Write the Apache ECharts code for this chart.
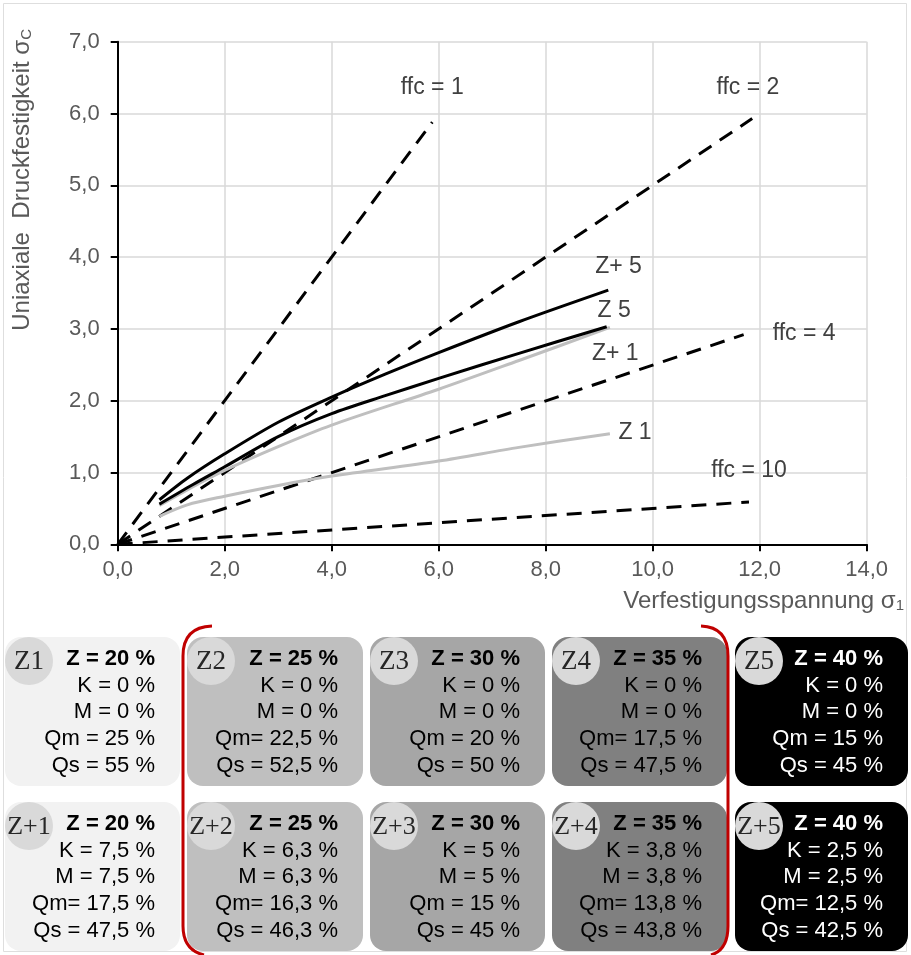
<!DOCTYPE html>
<html>
<head>
<meta charset="utf-8">
<script src="https://cdn.jsdelivr.net/npm/echarts/dist/echarts.min.js"></script>
<style>
html, body { margin: 0; padding: 0; background: #ffffff; }
#chart { width: 911px; height: 955px; }
</style>
</head>
<body>
<div id="chart"></div>
<script>
// Reference lines of constant flow function ffc = σ1 / σc
const ffc1  = [[0, 0], [5.88, 5.88]];
const ffc2  = [[0, 0], [11.86, 5.93]];
const ffc4  = [[0, 0], [11.7, 2.92]];
const ffc10 = [[0, 0], [11.8, 0.59]];

// Measured yield loci summaries: σ1 (x) vs. σc (y)
const curveZ1  = [[0.78, 0.39], [1.3, 0.55], [2.0, 0.67], [3.0, 0.82], [4.0, 0.95], [6.0, 1.16], [7.5, 1.35], [9.2, 1.54]];
const curveZp1 = [[0.78, 0.54], [1.4, 0.80], [2.0, 1.03], [3.0, 1.36], [4.0, 1.66], [6.0, 2.16], [7.5, 2.56], [9.2, 3.02]];
const curveZ5  = [[0.78, 0.56], [1.4, 0.83], [2.0, 1.08], [3.0, 1.50], [4.0, 1.82], [5.0, 2.07], [6.0, 2.31], [7.5, 2.66], [9.14, 3.03]];
const curveZp5 = [[0.78, 0.62], [1.3, 0.92], [2.0, 1.26], [3.0, 1.70], [4.0, 2.05], [5.0, 2.37], [6.0, 2.67], [7.5, 3.10], [9.17, 3.54]];

// Line annotations, anchored in data coordinates
const lineNotes = [
  { text: 'ffc = 1',  at: [5.88, 6.36] },
  { text: 'ffc = 2',  at: [11.78, 6.36] },
  { text: 'ffc = 4',  at: [12.83, 2.94] },
  { text: 'ffc = 10', at: [11.8, 1.03] },
  { text: 'Z+ 5',     at: [9.36, 3.87] },
  { text: 'Z 5',      at: [9.28, 3.26] },
  { text: 'Z+ 1',     at: [9.30, 2.65] },
  { text: 'Z 1',      at: [9.67, 1.56] }
];

// Mixture compositions
const mixRow1 = ['Z1', 'Z2', 'Z3', 'Z4', 'Z5'];
const mixRow2 = ['Z+1', 'Z+2', 'Z+3', 'Z+4', 'Z+5'];
const zLines  = ['Z = 20 %', 'Z = 25 %', 'Z = 30 %', 'Z = 35 %', 'Z = 40 %'];
const kRow1   = ['K = 0 %', 'K = 0 %', 'K = 0 %', 'K = 0 %', 'K = 0 %'];
const mRow1   = ['M = 0 %', 'M = 0 %', 'M = 0 %', 'M = 0 %', 'M = 0 %'];
const qmRow1  = ['Qm = 25 %', 'Qm= 22,5 %', 'Qm = 20 %', 'Qm= 17,5 %', 'Qm = 15 %'];
const qsRow1  = ['Qs = 55 %', 'Qs = 52,5 %', 'Qs = 50 %', 'Qs = 47,5 %', 'Qs = 45 %'];
const kRow2   = ['K = 7,5 %', 'K = 6,3 %', 'K = 5 %', 'K = 3,8 %', 'K = 2,5 %'];
const mRow2   = ['M = 7,5 %', 'M = 6,3 %', 'M = 5 %', 'M = 3,8 %', 'M = 2,5 %'];
const qmRow2  = ['Qm= 17,5 %', 'Qm= 16,3 %', 'Qm = 15 %', 'Qm= 13,8 %', 'Qm= 12,5 %'];
const qsRow2  = ['Qs = 47,5 %', 'Qs = 46,3 %', 'Qs = 45 %', 'Qs = 43,8 %', 'Qs = 42,5 %'];

const boxFill = ['#f2f2f2', '#bfbfbf', '#a6a6a6', '#808080', '#000000'];
const boxInk  = ['#000000', '#000000', '#000000', '#000000', '#ffffff'];

const SANS = '"Liberation Sans", Arial, sans-serif';
const SERIF = '"Liberation Serif", "Times New Roman", serif';
const GREY = '#595959';

const chart = echarts.init(document.getElementById('chart'), null, { renderer: 'canvas' });

function dashed(name, data) {
  return {
    name, type: 'line', data, symbol: 'none', silent: true, z: 2,
    lineStyle: { color: '#000', width: 3, type: [15, 10], cap: 'butt' }
  };
}
function solid(name, data, color, z) {
  return {
    name, type: 'line', data, symbol: 'none', silent: true, z,
    smooth: 0.3,
    lineStyle: { color, width: 3 }
  };
}
const commaFmt = v => v.toFixed(1).replace('.', ',');

chart.setOption({
  animation: false,
  backgroundColor: '#ffffff',
  grid: { left: 117.7, right: 44.3, top: 41.7, bottom: 410.7, containLabel: false },
  xAxis: {
    type: 'value', min: 0, max: 14, interval: 2,
    axisLine: { onZero: false, lineStyle: { color: '#000', width: 2 } },
    axisTick: { show: true, length: 7, lineStyle: { color: '#000', width: 2 } },
    axisLabel: { formatter: commaFmt, color: GREY, fontSize: 22, fontFamily: SANS, margin: 15 },
    splitLine: { show: true, lineStyle: { color: '#d9d9d9', width: 1.5 } }
  },
  yAxis: {
    type: 'value', min: 0, max: 7, interval: 1,
    axisLine: { onZero: false, lineStyle: { color: '#000', width: 2 } },
    axisTick: { show: true, length: 7, lineStyle: { color: '#000', width: 2 } },
    axisLabel: { formatter: commaFmt, color: GREY, fontSize: 22, fontFamily: SANS, margin: 18 },
    splitLine: { show: true, lineStyle: { color: '#d9d9d9', width: 1.5 } }
  },
  series: [
    dashed('ffc = 1', ffc1),
    dashed('ffc = 2', ffc2),
    dashed('ffc = 4', ffc4),
    dashed('ffc = 10', ffc10),
    solid('Z 1', curveZ1, '#bfbfbf', 3),
    solid('Z+ 1', curveZp1, '#bfbfbf', 3),
    solid('Z 5', curveZ5, '#000000', 4),
    solid('Z+ 5', curveZp5, '#000000', 4)
  ]
});

const g = [];

// outer frame
g.push({ type: 'rect', z: 0, shape: { x: 3.5, y: 3.5, width: 903, height: 948 },
  style: { fill: 'none', stroke: '#dedede', lineWidth: 1 } });

// axis titles
const titleRich = {
  a: { fontSize: 24, fontFamily: SANS, color: GREY, lineHeight: 27 },
  s: { fontSize: 15, fontFamily: SANS, color: GREY, lineHeight: 27, padding: [10, 0, 0, 0] }
};
g.push({
  type: 'text', x: 904, y: 601, z: 10,
  style: {
    text: '{a|Verfestigungsspannung σ}{s|1}', fill: GREY,
    align: 'right', verticalAlign: 'middle', textAlign: 'right', textVerticalAlign: 'middle',
    rich: titleRich
  }
});
g.push({
  type: 'text', x: 22, y: 29, rotation: Math.PI / 2, z: 10,
  style: {
    text: '{a|Uniaxiale  Druckfestigkeit σ}{s|C}', fill: GREY,
    align: 'right', verticalAlign: 'middle', textAlign: 'right', textVerticalAlign: 'middle',
    rich: titleRich
  }
});

// line annotations
lineNotes.forEach(n => {
  const p = chart.convertToPixel({ gridIndex: 0 }, n.at);
  g.push({
    type: 'text', x: p[0], y: p[1], z: 10,
    style: { text: n.text, fontSize: 23, fontFamily: SANS, fill: '#404040',
      align: 'center', verticalAlign: 'middle', textAlign: 'center', textVerticalAlign: 'middle' }
  });
});

// composition tiles
const colLeft = [5, 187, 370, 552, 735];
const colWidth = [175, 176, 175, 175, 173];
const rowTop = [637, 802];
const rowHeight = 149;
const rows = [
  { names: mixRow1, lines: [zLines, kRow1, mRow1, qmRow1, qsRow1] },
  { names: mixRow2, lines: [zLines, kRow2, mRow2, qmRow2, qsRow2] }
];
rows.forEach((row, r) => {
  const top = rowTop[r];
  row.names.forEach((nm, c) => {
    const left = colLeft[c];
    g.push({ type: 'rect', z: 1, shape: { x: left, y: top, width: colWidth[c], height: rowHeight, r: 16 },
      style: { fill: boxFill[c] } });
    g.push({ type: 'circle', z: 2, shape: { cx: left + 24, cy: top + 24, r: 24 },
      style: { fill: '#d9d9d9' } });
    g.push({ type: 'text', x: left + 24, y: top + 25, z: 3,
      style: { text: nm, fontSize: r === 0 ? 27 : 26, fontFamily: SERIF, fill: '#262626',
        align: 'center', verticalAlign: 'middle', textAlign: 'center', textVerticalAlign: 'middle' } });
    row.lines.forEach((arr, i) => {
      g.push({ type: 'text', x: left + colWidth[c] - 25, y: top + 22 + i * 26.7, z: 3,
        style: { text: arr[c], fontSize: 22, fontFamily: SANS, fontWeight: i === 0 ? 'bold' : 'normal',
          fill: boxInk[c], align: 'right', verticalAlign: 'middle', textAlign: 'right', textVerticalAlign: 'middle' } });
    });
  });
});

// red bracket around the middle three columns
const RED = { fill: 'none', stroke: '#c00000', lineWidth: 3 };
g.push({ type: 'bezierCurve', z: 5, shape: { x1: 212, y1: 626, cpx1: 183, cpy1: 627, x2: 183, y2: 656 }, style: RED });
g.push({ type: 'line', z: 5, shape: { x1: 183, y1: 656, x2: 183, y2: 926 }, style: RED });
g.push({ type: 'bezierCurve', z: 5, shape: { x1: 183, y1: 926, cpx1: 183, cpy1: 950, x2: 204, y2: 955 }, style: RED });
g.push({ type: 'bezierCurve', z: 5, shape: { x1: 701, y1: 626, cpx1: 728, cpy1: 627, x2: 728, y2: 656 }, style: RED });
g.push({ type: 'line', z: 5, shape: { x1: 728, y1: 656, x2: 728, y2: 926 }, style: RED });
g.push({ type: 'bezierCurve', z: 5, shape: { x1: 728, y1: 926, cpx1: 728, cpy1: 950, x2: 711, y2: 955 }, style: RED });

chart.setOption({ graphic: g });
</script>
</body>
</html>
